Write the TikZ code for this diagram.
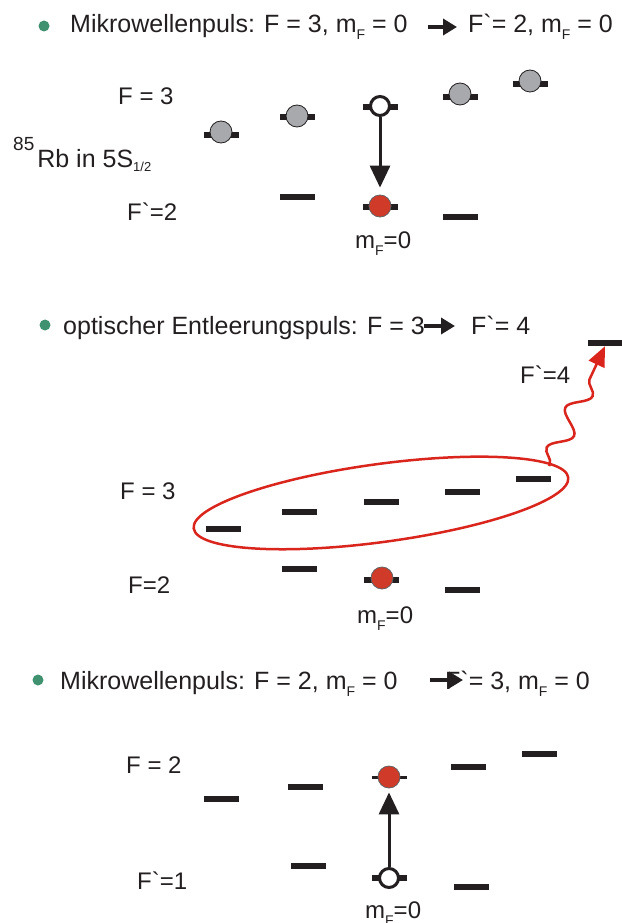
\documentclass[tikz,border=0pt]{standalone}
\usepackage{fontspec}
\setmainfont{Liberation Sans}[Ligatures=TeXOff]
\usetikzlibrary{arrows.meta,decorations.pathmorphing}
\definecolor{barc}{HTML}{231F20}
\definecolor{grayc}{RGB}{167,169,172}
\definecolor{redc}{RGB}{208,58,41}
\definecolor{ellc}{RGB}{218,37,29}
\definecolor{bulc}{RGB}{63,145,112}
\newcommand{\mF}{m\raisebox{-7pt}{\fontsize{14}{14}\selectfont F}}
\newcommand{\gr}{\symbol{96}}
\begin{document}
\begin{tikzpicture}[x=1pt,y=-1pt,
  lbl/.style={anchor=base west, inner sep=0pt, font=\fontsize{24}{28}\selectfont, text=barc},
  ttl/.style={lbl, font=\fontsize{25}{29}\selectfont},
  lvl/.style={rectangle, fill=barc, minimum width=35pt, minimum height=6pt, inner sep=0pt},
  thinlvl/.style={lvl, minimum height=3pt},
  grayatom/.style={circle, fill=grayc, draw=barc, line width=0.8pt, minimum size=22pt, inner sep=0pt},
  redatom/.style={circle, fill=redc, draw=barc!70, line width=0.8pt, minimum size=22pt, inner sep=0pt},
  whiteatom/.style={circle, fill=white, draw=barc, line width=3pt, minimum size=19pt, inner sep=0pt},
  bullet/.style={circle, fill=bulc, minimum size=11pt, inner sep=0pt},
  txtarrow/.style={line width=4pt, draw=barc, -{Triangle[length=14pt,width=16pt]}},
  vertarrow/.style={line width=3pt, draw=barc, -{Triangle[length=22pt,width=20pt]}}
]
\useasboundingbox (0,0) rectangle (621,923);

% ---------- Section 1 ----------
\node[bullet] (b1) at (44,26) {};
\node[ttl] (t1a) at (70,33) {Mikrowellenpuls: F = 3, \mF{} = 0};
\node[ttl] (t1b) at (468,33) {F\gr= 2, \mF{} = 0};
\coordinate (a1s) at (428,27);
\coordinate (a1e) at (457,27);
\draw[txtarrow] (a1s) -- (a1e);

\node[lbl] (s1f3) at (118,105) {F = 3};
\node[lbl, font=\fontsize{25}{28}\selectfont] (rb) at (13,167) {\raisebox{17pt}{\fontsize{19}{19}\selectfont 85}\kern3pt Rb in 5S\raisebox{-5pt}{\fontsize{13}{13}\selectfont 1/2}};
\node[lbl] (s1f2) at (127,220) {F\gr=2};
\node[lbl] (s1mf) at (355,248) {\mF=0};

\node[lvl] (u1) at (221,135) {};
\node[lvl] (u2) at (297,117) {};
\node[lvl] (u3) at (380,107) {};
\node[lvl] (u4) at (460,97) {};
\node[lvl] (u5) at (530,84) {};
\node[lvl] (d2) at (297,197) {};
\node[lvl] (d3) at (380,207) {};
\node[lvl] (d4) at (460,217) {};

\node[grayatom] (g1) at (221,132) {};
\node[grayatom] (g2) at (297,116) {};
\node[grayatom] (g4) at (460,94) {};
\node[grayatom] (g5) at (530,81) {};
\node[whiteatom] (w1) at (380,106) {};
\node[redatom] (r1) at (380,206) {};
\draw[vertarrow, shorten >=7pt] (w1.south) -- (r1.north);

% ---------- Section 2 ----------
\node[bullet] (b2) at (45,325) {};
\node[ttl] (t2a) at (63,334) {optischer Entleerungspuls: F = 3};
\node[ttl] (t2b) at (471,334) {F\gr= 4};
\coordinate (a2s) at (424,326);
\coordinate (a2e) at (455,326);
\draw[txtarrow] (a2s) -- (a2e);

\node[lbl] (s2f3) at (120,499) {F = 3};
\node[lbl] (s2f2) at (128,593) {F=2};
\node[lbl] (s2mf) at (357,623) {\mF=0};
\node[lbl] (s2f4) at (520,383) {F\gr=4};

\node[lvl] (v1) at (223,529) {};
\node[lvl] (v2) at (299,512) {};
\node[lvl] (v3) at (381,502) {};
\node[lvl] (v4) at (462,492) {};
\node[lvl] (v5) at (533,479) {};
\node[lvl] (e2) at (299,569) {};
\node[lvl] (e3) at (381,580) {};
\node[lvl] (e4) at (462,590) {};
\node[lvl] (top4) at (605,343) {};
\node[redatom] (r2) at (382,578) {};

\coordinate (ec) at (381,503);
\draw[ellc, line width=2.5pt, rotate around={7.75:(ec)}] (ec) ellipse [x radius=189, y radius=39];
\coordinate (ws) at (549,466);
\draw[ellc, line width=2.5pt, -{Triangle[length=20pt,width=17pt]},
  decorate, decoration={snake, amplitude=10pt, segment length=44pt, pre length=2pt, post length=18pt}]
  (ws) -- (top4.south);

% ---------- Section 3 ----------
\node[bullet] (b3) at (38,680) {};
\node[ttl] (t3a) at (60,689) {Mikrowellenpuls: F = 2, \mF{} = 0};
\node[ttl] (t3b) at (445,689) {F\gr= 3, \mF{} = 0};
\coordinate (a3s) at (430,680);
\coordinate (a3e) at (463,680);
\draw[txtarrow] (a3s) -- (a3e);

\node[lbl] (s3f2) at (126,773) {F = 2};
\node[lbl] (s3f1) at (137,889) {F\gr=1};
\node[lbl] (s3mf) at (365,918) {\mF=0};

\node[lvl] (x1) at (221,799) {};
\node[lvl] (x2) at (305,787) {};
\node[thinlvl] (x3) at (389,777) {};
\node[lvl] (x4) at (468,767) {};
\node[lvl] (x5) at (539,754) {};
\node[lvl] (y2) at (308,866) {};
\node[lvl] (y3) at (389,878) {};
\node[lvl] (y4) at (471,887) {};

\node[redatom] (r3) at (389,777) {};
\node[whiteatom] (w3) at (389,878) {};
\draw[vertarrow, shorten >=4pt] (w3.north) -- (r3.south);
\end{tikzpicture}
\end{document}
